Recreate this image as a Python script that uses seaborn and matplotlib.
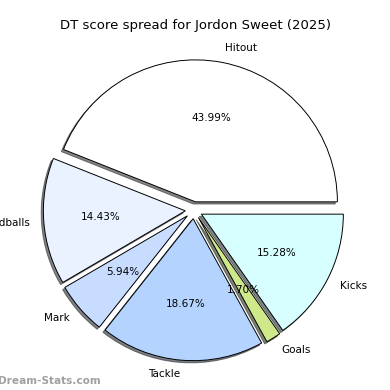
import matplotlib
matplotlib.use('Agg')
import matplotlib.pyplot as plt
import seaborn as sns

sns.set_style('white')
plt.rcParams['font.family'] = ['DejaVu Sans']
plt.rcParams['text.color'] = 'black'

# score categories and their share of the DT score
categories = ['Hitout', 'Handballs', 'Mark', 'Tackle', 'Goals', 'Kicks']
shares = [43.99, 14.43, 5.94, 18.67, 1.70, 15.28]
colours = ['#ffffff', '#eaf2ff', '#c8dcff', '#b4d4ff', '#cfe98a', '#d8ffff']

fig = plt.figure(figsize=(3.9, 3.9), dpi=100)
ax = fig.add_axes([0.042, 0.006, 0.91, 0.91])

ax.pie(shares, labels=categories, colors=colours, autopct='%1.2f%%',
       explode=[0.06] * len(shares),
       shadow={'ox': -0.011, 'oy': -0.011, 'shade': 0.8, 'alpha': 0.6},
       startangle=0,
       wedgeprops={'edgecolor': 'black', 'linewidth': 0.7},
       textprops={'fontsize': 7.5, 'color': 'black'})
ax.set_aspect('equal')

fig.suptitle('DT score spread for Jordon Sweet (2025)', fontsize=9.5, y=0.952,
             color='black')
fig.text(-0.005, 0.015, 'Dream-Stats.com', fontsize=7.6, color='#a0a0a0',
         fontweight='bold')

plt.savefig('out.png', dpi=100)
